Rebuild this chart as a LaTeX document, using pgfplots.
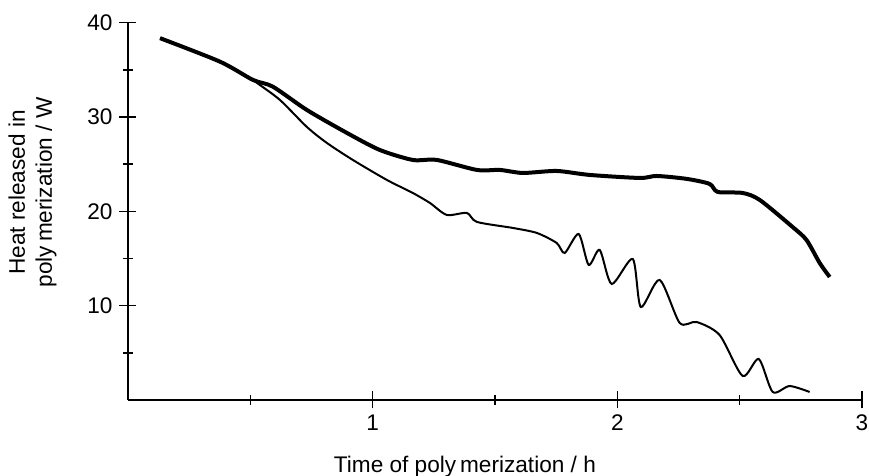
\documentclass[border=0pt]{standalone}
\usepackage{pgfplots}
\pgfplotsset{compat=1.18}
\usepackage{fontspec}
\setmainfont{Liberation Sans}
\begin{document}
\begin{tikzpicture}
\useasboundingbox (-64pt,-38pt) rectangle (370.5pt,200pt);
\begin{axis}[
  at={(0pt,0pt)}, anchor=south west,
  scale only axis, width=367pt, height=188.65pt,
  xmin=0, xmax=3, ymin=0, ymax=40,
  axis lines=left, axis line style={-, line width=0.9pt},
  xtick={1,2,3}, minor xtick={0.5,1.5,2.5},
  ytick={10,20,30,40}, minor ytick={5,15,25,35},
  tick align=center,
  major tick length=8.5pt, minor tick length=5pt,
  every tick/.style={black, line width=0.8pt},
  /pgf/number format/assume math mode=true,
  tick label style={font=\fontsize{11.3}{13.5}\selectfont},
  xticklabel style={yshift=0.5pt},
  label style={font=\fontsize{11.3}{13.5}\selectfont},
  xlabel={Time of poly\hspace{2pt}merization / h},
  ylabel={Heat released in\\poly\hspace{2pt}merization / W},
  ylabel style={at={(axis description cs:-0.13,0.55)}, anchor=center, align=center},
  xlabel style={at={(axis description cs:0.459,-0.177)}, anchor=center},
  clip=false,
]
\addplot[black, line width=2pt, smooth, tension=0.45] coordinates {
(0.131,38.36) (0.376,35.87) (0.511,33.93) (0.592,33.22) (0.731,30.75)
(0.895,28.31) (1.029,26.51) (1.164,25.45) (1.262,25.45) (1.426,24.39)
(1.520,24.39) (1.614,24.07) (1.752,24.28) (1.887,23.86) (2.092,23.54)
(2.161,23.75) (2.284,23.44) (2.377,22.91) (2.410,22.06) (2.512,21.95)
(2.582,21.21) (2.716,18.35) (2.773,16.97) (2.827,14.53) (2.868,13.04)
};
\addplot[black, line width=1pt, smooth, tension=0.45] coordinates {
(0.131,38.36) (0.376,35.87) (0.511,33.93) (0.527,33.62) (0.621,31.81)
(0.731,28.95) (0.813,27.25) (0.919,25.45) (1.058,23.33) (1.164,21.95)
(1.234,20.89) (1.303,19.62) (1.385,19.83) (1.426,18.88) (1.573,18.24)
(1.671,17.71) (1.752,16.65) (1.785,15.59) (1.842,17.60) (1.883,14.32)
(1.928,15.91) (1.977,12.30) (2.063,14.95) (2.096,9.86) (2.173,12.73)
(2.255,8.17) (2.324,8.27) (2.418,6.89) (2.512,2.55) (2.578,4.35)
(2.635,0.85) (2.704,1.48) (2.786,0.85)
};
\end{axis}
\end{tikzpicture}
\end{document}
